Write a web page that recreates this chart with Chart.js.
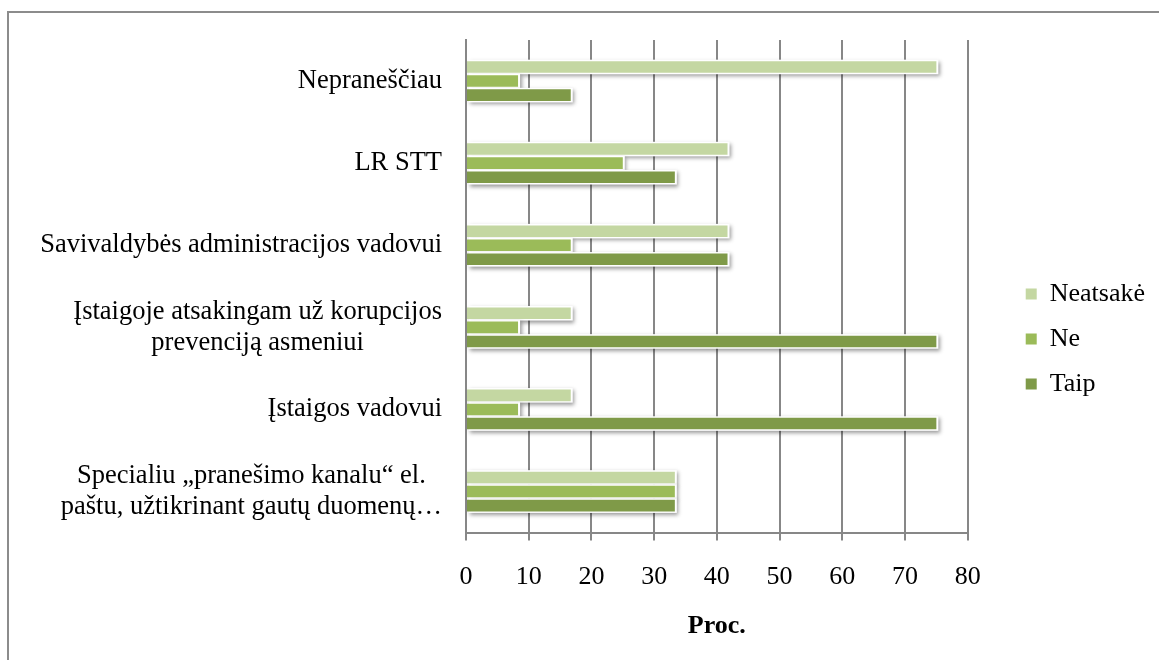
<!DOCTYPE html>
<html>
<head>
<meta charset="utf-8">
<script src="https://cdn.jsdelivr.net/npm/chart.js@4.4.1/dist/chart.umd.min.js"></script>
<style>
  html, body { margin: 0; padding: 0; background: #fff; overflow: hidden; }
  #frame { position: absolute; left: 7px; top: 11px; width: 1200px; height: 700px;
           border-left: 2px solid #8c8c8c; border-top: 2px solid #8c8c8c; }
  #wrap { position: absolute; left: 0; top: 0; width: 1159px; height: 660px; }
</style>
</head>
<body>
<div id="frame"></div>
<div id="wrap"><canvas id="reportChart"></canvas></div>
<script>
// categories, top to bottom (multi-line labels as arrays)
const categories = [
    ['Nepraneščiau'],
    ['LR STT'],
    ['Savivaldybės administracijos vadovui'],
    ['Įstaigoje atsakingam už korupcijos', 'prevenciją asmeniui'],
    ['Įstaigos vadovui'],
    ['Specialiu „pranešimo kanalu“ el.', 'paštu, užtikrinant gautų duomenų…']
];
const seriesNames = ['Neatsakė', 'Ne', 'Taip'];
const neatsake = [75, 41.7, 41.7, 16.7, 16.7, 33.3];
const ne = [8.3, 25, 16.7, 8.3, 8.3, 33.3];
const taip = [16.7, 33.3, 41.7, 75, 75, 33.3];
const xMin = 0, xMax = 80, xStep = 10;

const serif = 'Liberation Serif';
const gridGray = '#878787';

// white outline + soft shadow under every bar (like the Excel bar effect)
const barShadow = {
    id: 'barShadow',
    beforeDatasetsDraw(chart) {
        const ctx = chart.ctx;
        ctx.save();
        ctx.shadowColor = 'rgba(0, 0, 0, 0.4)';
        ctx.shadowBlur = 4;
        ctx.shadowOffsetX = 1.5;
        ctx.shadowOffsetY = 2;
        ctx.fillStyle = '#fff';
        chart.data.datasets.forEach((ds, i) => {
            chart.getDatasetMeta(i).data.forEach(bar => {
                const {x, y, base, height} = bar.getProps(['x', 'y', 'base', 'height'], true);
                ctx.fillRect(base + 1.5, y - height / 2 - 1.5, x - base + 0.5, height + 3);
            });
        });
        ctx.restore();
    }
};

// category labels: lines centred on each other, block right-aligned near the axis
const categoryLabels = {
    id: 'categoryLabels',
    afterDraw(chart) {
        const {ctx, scales: {y}} = chart;
        ctx.save();
        ctx.font = '26.5px "' + serif + '"';
        ctx.fillStyle = '#000';
        ctx.textAlign = 'center';
        ctx.textBaseline = 'middle';
        categories.forEach((lines, i) => {
            const yc = y.getPixelForValue(i);
            const w = Math.max(...lines.map(l => ctx.measureText(l).width));
            const cx = 442 - w / 2;
            lines.forEach((line, k) => {
                ctx.fillText(line, cx, yc + (k - (lines.length - 1) / 2) * 31);
            });
        });
        ctx.restore();
    }
};

const ctx = document.getElementById('reportChart');

new Chart(ctx, {
    type: 'bar',
    data: {
        labels: categories.map(l => l.join(' ')),
        datasets: [{
            label: seriesNames[0],
            data: neatsake,
            backgroundColor: '#c4d7a2'
        }, {
            label: seriesNames[1],
            data: ne,
            backgroundColor: '#9bbb59'
        }, {
            label: seriesNames[2],
            data: taip,
            backgroundColor: '#7f9a48'
        }]
    },
    options: {
        indexAxis: 'y',
        responsive: true,
        maintainAspectRatio: false,
        animation: false,
        datasets: {
            bar: {
                barPercentage: 0.82,
                categoryPercentage: 0.515,
                borderWidth: 0
            }
        },
        layout: {
            padding: { top: 40, right: 4, bottom: 22, left: 0 }
        },
        scales: {
            x: {
                min: xMin,
                max: xMax,
                ticks: {
                    stepSize: xStep,
                    color: '#000',
                    padding: 21,
                    font: { family: serif, size: 26 }
                },
                grid: {
                    color: gridGray,
                    lineWidth: 2,
                    tickLength: 8,
                    tickColor: gridGray
                },
                border: { color: gridGray, width: 2 },
                title: {
                    display: true,
                    text: 'Proc.',
                    color: '#000',
                    font: { family: serif, size: 26, weight: 'bold' },
                    padding: { top: -3.4, bottom: -3.6 }
                }
            },
            y: {
                grid: { display: false },
                ticks: { display: false },
                border: { color: gridGray, width: 2 },
                afterFit: s => { s.width = 466; }
            },
            gap: {
                axis: 'y',
                type: 'linear',
                position: 'right',
                grid: { display: false },
                ticks: { display: false },
                border: { display: false },
                afterFit: s => { s.width = 39; }
            }
        },
        plugins: {
            legend: {
                position: 'right',
                labels: {
                    boxWidth: 11,
                    boxHeight: 11,
                    padding: 19,
                    color: '#000',
                    font: { family: serif, size: 26 }
                }
            },
            tooltip: { enabled: false }
        }
    },
    plugins: [barShadow, categoryLabels]
});
</script>
</body>
</html>
